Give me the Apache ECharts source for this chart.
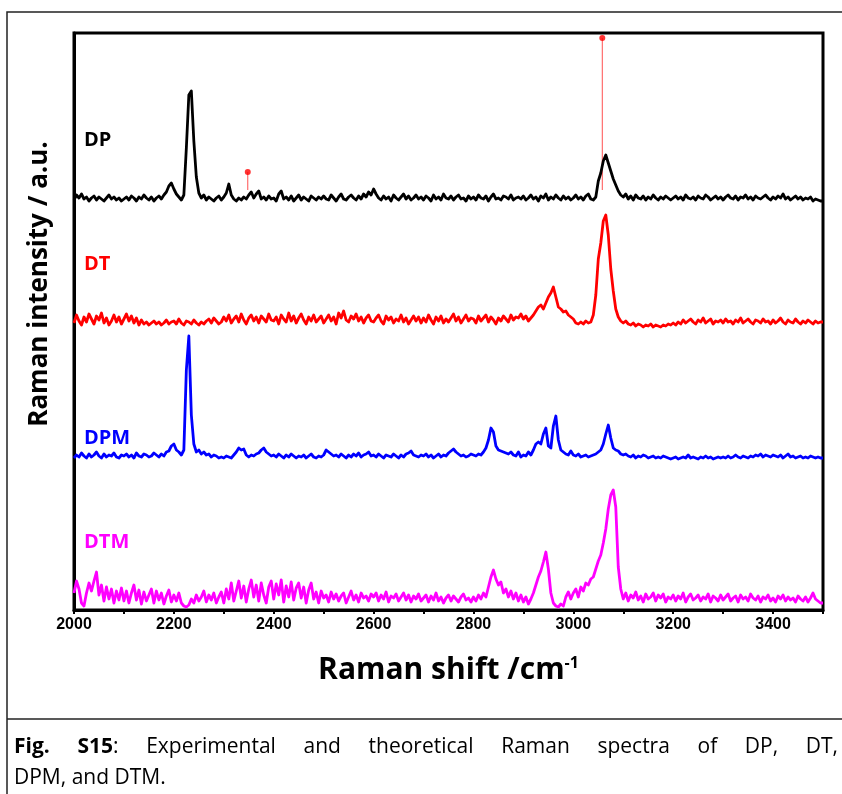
<!DOCTYPE html>
<html>
<head>
<meta charset="utf-8">
<title>Raman spectra</title>
<script src="https://cdn.jsdelivr.net/npm/echarts@6/dist/echarts.min.js"></script>
<style>
  html, body { margin: 0; padding: 0; background: #fff; }
  #chart { width: 842px; height: 794px; }
</style>
</head>
<body>
<div id="chart"></div>
<script>
// ---- data: intensity above each trace's own baseline (a.u.), grid 2000..3500 step 5 ----
var shift = [];
for (var s = 2000; s <= 3500; s += 5) shift.push(s);

var dpVal = [
  3, 8, 5, 9, 4, 6, 2, 5, 7, 3, 6, 4, 2, 5, 8, 4, 6, 3, 5, 2,
  4, 6, 3, 7, 5, 2, 6, 4, 8, 5, 3, 6, 2, 5, 7, 4, 8, 11, 17, 20,
  14, 9, 6, 3, 8, 55, 108, 112, 62, 26, 10, 5, 8, 3, 6, 4, 2, 5, 7, 3,
  6, 10, 19, 8, 4, 2, 5, 3, 6, 4, 8, 11, 5, 9, 12, 4, 6, 3, 7, 4,
  5, 2, 9, 12, 4, 6, 3, 7, 2, 5, 8, 3, 6, 4, 2, 7, 5, 3, 6, 4,
  7, 4, 3, 8, 5, 2, 6, 9, 4, 3, 6, 8, 5, 3, 7, 4, 9, 6, 11, 8,
  14, 9, 5, 3, 7, 4, 6, 2, 8, 5, 3, 6, 9, 4, 7, 3, 5, 8, 4, 6,
  3, 7, 5, 2, 8, 4, 6, 3, 9, 5, 4, 7, 3, 6, 8, 4, 5, 2, 7, 4,
  6, 3, 8, 5, 4, 7, 2, 6, 9, 4, 5, 3, 7, 6, 4, 8, 3, 5, 6, 4,
  7, 3, 5, 8, 4, 6, 2, 7, 5, 9, 3, 6, 4, 8, 5, 3, 7, 4, 6, 3,
  5, 8, 4, 6, 3, 7, 9, 4, 3, 6, 22, 30, 42, 48, 40, 32, 24, 18, 12, 8,
  6, 9, 4, 7, 3, 8, 5, 4, 7, 3, 6, 4, 8, 5, 3, 6, 4, 7, 5, 3,
  5, 7, 4, 6, 3, 8, 5, 4, 6, 3, 7, 5, 4, 8, 6, 3, 5, 7, 4, 6,
  3, 6, 8, 5, 4, 7, 3, 6, 5, 8, 4, 6, 3, 7, 5, 4, 6, 8, 5, 3,
  6, 4, 7, 5, 9, 4, 6, 3, 5, 7, 4, 6, 3, 5, 4, 6, 2, 4, 3, 2,
  2
];
var dtVal = [
  4, 12, 6, 2, 10, 5, 13, 8, 3, 11, 7, 14, 4, 9, 2, 6, 12, 5, 10, 3,
  8, 13, 6, 11, 4, 9, 2, 7, 3, 5, 2, 4, 6, 3, 5, 2, 4, 7, 3, 5,
  6, 3, 8, 4, 2, 6, 5, 3, 7, 4, 2, 5, 3, 6, 8, 4, 9, 6, 3, 5,
  10, 6, 12, 4, 8, 11, 5, 13, 7, 3, 9, 12, 6, 10, 4, 11, 8, 5, 13, 7,
  6, 10, 3, 12, 8, 5, 14, 6, 11, 4, 9, 13, 7, 3, 10, 6, 12, 5, 8, 11,
  4, 8, 12, 6, 10, 3, 14, 9, 16, 7, 5, 11, 8, 13, 6, 10, 4, 9, 12, 6,
  5, 9, 12, 6, 3, 11, 7, 10, 4, 8, 6, 12, 5, 9, 3, 7, 11, 6, 10, 4,
  9, 5, 12, 7, 3, 10, 6, 11, 4, 8, 5, 9, 13, 6, 10, 4, 8, 12, 6, 9,
  8, 4, 11, 6, 9, 12, 5, 10, 7, 3, 9, 6, 11, 8, 5, 12, 7, 10, 9, 13,
  8, 11, 6, 9, 12, 16, 20, 22, 18, 24, 30, 34, 40, 30, 20, 18, 15, 16, 12, 10,
  8, 4, 3, 5, 3, 6, 4, 5, 12, 32, 68, 84, 106, 112, 92, 58, 36, 18, 10, 6,
  4, 6, 3, 2, 4, 1, 3, 2, 0, 2, 1, 3, 0, 2, 1, 0, 2, 1, 3, 2,
  4, 2, 5, 3, 7, 4, 6, 8, 5, 3, 7, 5, 9, 4, 6, 8, 3, 6, 5, 7,
  4, 8, 5, 6, 3, 7, 5, 9, 4, 6, 8, 5, 3, 7, 6, 4, 8, 5, 6, 3,
  7, 4, 6, 9, 5, 3, 7, 5, 4, 8, 5, 3, 6, 4, 7, 5, 3, 6, 4, 5,
  5
];
var dpmVal = [
  2, 5, 3, 7, 4, 2, 6, 3, 5, 8, 4, 2, 6, 3, 5, 4, 7, 3, 2, 5,
  4, 6, 3, 5, 2, 7, 4, 3, 6, 5, 3, 4, 7, 5, 3, 6, 4, 8, 9, 14,
  16, 10, 8, 5, 10, 90, 124, 45, 16, 8, 10, 6, 8, 5, 6, 3, 5, 4, 2, 3,
  2, 4, 3, 2, 5, 8, 12, 10, 11, 5, 3, 5, 4, 6, 7, 10, 12, 8, 6, 4,
  5, 3, 6, 4, 2, 5, 3, 6, 4, 2, 4, 3, 5, 2, 4, 6, 3, 2, 4, 3,
  5, 10, 8, 6, 4, 5, 3, 6, 4, 2, 5, 3, 6, 4, 7, 3, 5, 6, 8, 4,
  5, 3, 6, 4, 2, 5, 4, 3, 6, 4, 2, 5, 3, 6, 7, 9, 5, 4, 3, 5,
  4, 6, 3, 5, 2, 4, 6, 3, 5, 4, 7, 9, 11, 8, 6, 4, 5, 3, 4, 6,
  5, 4, 6, 5, 8, 12, 20, 32, 28, 14, 10, 9, 8, 7, 6, 8, 5, 4, 8, 3,
  5, 4, 8, 5, 10, 16, 18, 16, 26, 32, 14, 12, 34, 44, 20, 10, 8, 6, 5, 9,
  5, 4, 6, 3, 4, 5, 3, 4, 5, 6, 8, 10, 16, 26, 35, 22, 12, 10, 9, 6,
  5, 6, 4, 3, 5, 2, 4, 3, 5, 4, 2, 3, 4, 2, 3, 2, 4, 3, 2, 1,
  2, 3, 1, 2, 3, 2, 5, 2, 3, 2, 1, 3, 2, 4, 2, 3, 1, 2, 3, 2,
  3, 2, 4, 2, 3, 5, 3, 2, 4, 3, 2, 4, 3, 5, 4, 6, 3, 5, 4, 3,
  5, 4, 3, 5, 2, 4, 6, 3, 4, 2, 3, 4, 2, 3, 2, 4, 3, 2, 3, 2,
  2
];
var dtmVal = [
  14, 26, 18, 4, 1, 14, 24, 16, 26, 35, 12, 22, 6, 20, 8, 18, 4, 16, 7, 19,
  6, 16, 4, 14, 22, 7, 17, 3, 15, 6, 12, 18, 4, 16, 7, 14, 3, 11, 17, 5,
  12, 6, 14, 4, 1, 0, 2, 8, 4, 12, 6, 10, 16, 5, 12, 7, 14, 4, 10, 15,
  4, 18, 8, 24, 6, 16, 26, 9, 21, 5, 18, 27, 10, 22, 6, 24, 12, 4, 20, 26,
  8, 23, 12, 27, 5, 21, 10, 25, 7, 19, 24, 9, 20, 4, 17, 24, 8, 15, 4, 16,
  9, 12, 5, 15, 8, 13, 6, 11, 14, 4, 10, 16, 7, 12, 5, 14, 9, 11, 6, 13,
  10, 14, 6, 12, 8, 15, 5, 11, 9, 13, 6, 10, 14, 7, 12, 5, 11, 8, 13, 6,
  9, 12, 5, 11, 7, 14, 6, 10, 4, 9, 12, 6, 11, 8, 5, 10, 13, 7, 9, 5,
  10, 6, 12, 8, 14, 10, 20, 30, 37, 28, 22, 25, 14, 18, 10, 16, 8, 14, 6, 12,
  5, 10, 3, 8, 14, 22, 30, 36, 45, 55, 38, 14, 4, 1, 0, 3, 1, 10, 15, 8,
  14, 18, 10, 20, 16, 24, 22, 28, 30, 38, 46, 52, 64, 78, 98, 112, 117, 100, 40, 18,
  8, 14, 6, 12, 9, 15, 7, 11, 5, 13, 8, 10, 14, 6, 12, 9, 13, 5, 10, 8,
  12, 6, 11, 8, 14, 5, 10, 13, 7, 9, 12, 6, 10, 8, 13, 5, 11, 9, 6, 12,
  7, 10, 13, 6, 9, 11, 5, 12, 8, 10, 6, 13, 9, 7, 11, 5, 10, 8, 12, 6,
  9, 5, 11, 8, 12, 6, 10, 7, 9, 5, 11, 8, 6, 10, 5, 9, 14, 8, 6, 4,
  4
];

var names = ['DP', 'DT', 'DPM', 'DTM'];
var colors = ['#000000', '#ff0000', '#0000ff', '#ff00ff'];
var offsets = [407, 283, 150, 3];     // vertical stacking of the traces

// theoretical sticks (red) drawn over DP
var stickShift = [2348, 3058];
var stickHeight = [18, 152];
var stickBase = 420;

var xTicks = [2000, 2200, 2400, 2600, 2800, 3000, 3200, 3400];

// ---- series ----
function pairs(vals, off) {
  var out = [];
  for (var i = 0; i < vals.length; i++) out.push([shift[i], vals[i] + off]);
  return out;
}
var allVals = [dpVal, dtVal, dpmVal, dtmVal];
var series = [];
for (var k = 0; k < 4; k++) {
  series.push({
    name: names[k],
    type: 'line',
    data: pairs(allVals[k], offsets[k]),
    symbol: 'none',
    lineStyle: { color: colors[k], width: 2.8, join: 'round' },
    z: 3
  });
}
var stickLines = [], stickTops = [];
for (var j = 0; j < stickShift.length; j++) {
  stickLines.push([stickShift[j], stickBase]);
  stickLines.push([stickShift[j], stickBase + stickHeight[j]]);
  stickLines.push([stickShift[j], '-']);
  stickTops.push([stickShift[j], stickBase + stickHeight[j]]);
}
series.push({
  type: 'line', data: stickLines, symbol: 'none', connectNulls: false,
  lineStyle: { color: '#ff5050', width: 1 }, z: 2
});
series.push({
  type: 'scatter', data: stickTops, symbolSize: 6,
  itemStyle: { color: '#ff0000' }, z: 4
});

// ---- caption, justified like the figure's text box ----
var capFont = '"Open Sans"';
var capSize = 21;
var measureCtx = document.createElement('canvas').getContext('2d');
function textW(t, bold) {
  measureCtx.font = (bold ? 'bold ' : '') + capSize + 'px ' + capFont;
  return measureCtx.measureText(t).width;
}
// each word: list of [text, bold]
var capWords = [
  [['Fig.', true]], [['S15', true], [':', false]], [['Experimental', false]],
  [['and', false]], [['theoretical', false]], [['Raman', false]],
  [['spectra', false]], [['of', false]], [['DP,', false]], [['DT,', false]]
];
var capLeft = 14, capRight = 838, capY1 = 747;
var graphics = [];
var totalW = 0, wordW = [];
capWords.forEach(function (w) {
  var ww = 0;
  w.forEach(function (p) { ww += textW(p[0], p[1]); });
  wordW.push(ww); totalW += ww;
});
var gap = (capRight - capLeft - totalW) / (capWords.length - 1);
var cx = capLeft;
capWords.forEach(function (w, idx) {
  var px = cx;
  w.forEach(function (p) {
    graphics.push({ type: 'text', x: px, y: capY1,
      style: { text: p[0], fill: '#000', verticalAlign: 'middle',
        font: (p[1] ? 'bold ' : '') + capSize + 'px ' + capFont } });
    px += textW(p[0], p[1]);
  });
  cx += wordW[idx] + gap;
});
graphics.push({ type: 'text', x: capLeft, y: 778,
  style: { text: 'DPM, and DTM.', fill: '#000', verticalAlign: 'middle',
    font: capSize + 'px ' + capFont } });

// frames and axis title
graphics.push(
  { type: 'rect', shape: { x: 7, y: 12, width: 900, height: 900 },
    style: { fill: null, stroke: '#222', lineWidth: 1.5 }, silent: true },
  { type: 'line', shape: { x1: 7, y1: 719, x2: 842, y2: 719 },
    style: { stroke: '#222', lineWidth: 1.5 } },
  { type: 'text', x: 40, y: 284, rotation: Math.PI / 2,
    style: { text: 'Raman intensity / a.u.', font: 'bold 26px "Open Sans"',
      fill: '#000', align: 'center', verticalAlign: 'middle' } }
);
var labelPos = [[84, 140], [84, 264], [84, 438], [84, 542]];
for (var m = 0; m < 4; m++) {
  graphics.push({
    type: 'text', x: labelPos[m][0], y: labelPos[m][1],
    style: { text: names[m], font: 'bold 20px "Open Sans"', fill: colors[m],
      verticalAlign: 'middle' }
  });
}

var chart = echarts.init(document.getElementById('chart'), null, { renderer: 'canvas' });
chart.setOption({
  backgroundColor: '#fff',
  animation: false,
  grid: { left: 74, right: 19, top: 33, bottom: 184, show: true,
    borderColor: '#000', borderWidth: 3 },
  xAxis: {
    type: 'value', min: 2000, max: 3500, interval: 100,
    name: 'Raman shift /cm{sup|-1}', nameLocation: 'middle', nameGap: 45,
    nameTextStyle: {
      fontFamily: 'Open Sans', fontWeight: 'bold', fontSize: 30, color: '#000',
      rich: { sup: { fontFamily: 'Open Sans', fontWeight: 'bold', fontSize: 16,
        verticalAlign: 'top', padding: [0, 0, 14, 0] } }
    },
    axisLine: { lineStyle: { color: '#000', width: 3 } },
    axisTick: { inside: false, length: 4, lineStyle: { color: '#000', width: 2 } },
    axisLabel: {
      fontFamily: 'Liberation Sans', fontWeight: 'bold', fontSize: 16,
      color: '#000', margin: 7,
      formatter: function (v) { return xTicks.indexOf(v) >= 0 ? String(v) : ''; }
    },
    splitLine: { show: false }
  },
  yAxis: {
    type: 'value', min: 0, max: 577,
    axisLine: { show: true, lineStyle: { color: '#000', width: 3 } },
    axisTick: { show: false }, axisLabel: { show: false },
    splitLine: { show: false }
  },
  graphic: graphics,
  series: series
});
</script>
</body>
</html>
